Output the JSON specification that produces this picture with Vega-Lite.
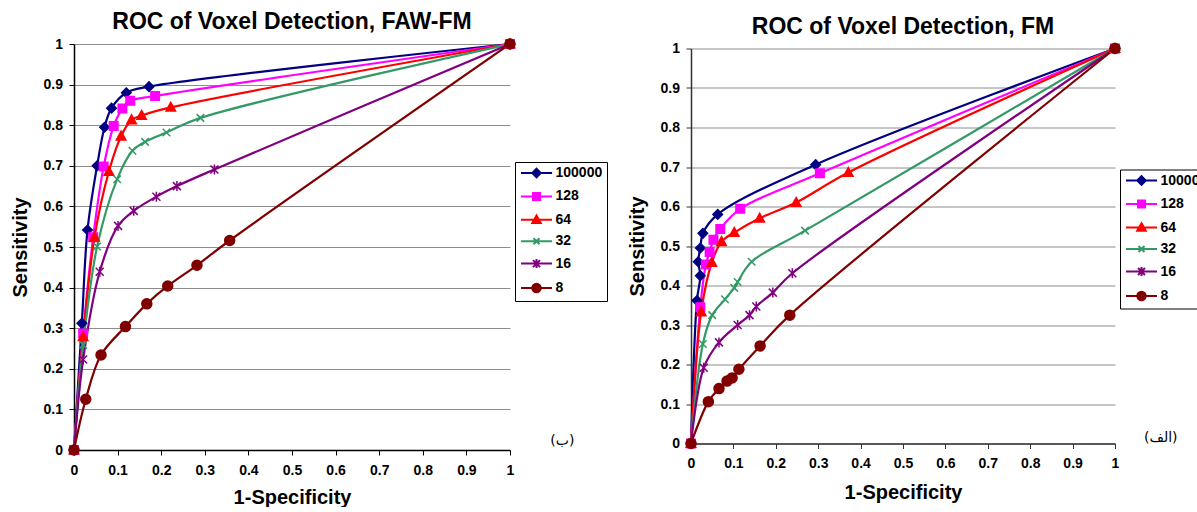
{
  "$schema": "https://vega.github.io/schema/vega-lite/v6.json",
  "padding": {"left": 10, "top": 11, "right": 0, "bottom": 0},
  "background": "white",
  "config": {"view": {"stroke": null}, "font": "Liberation Sans"},
  "datasets": {
    "faw": [
      {"s":"100000","i":0,"x":0,"y":0},{"s":"100000","i":1,"x":0.018,"y":0.312},{"s":"100000","i":2,"x":0.031,"y":0.542},{"s":"100000","i":3,"x":0.053,"y":0.700},{"s":"100000","i":4,"x":0.070,"y":0.795},{"s":"100000","i":5,"x":0.086,"y":0.842},{"s":"100000","i":6,"x":0.120,"y":0.880},{"s":"100000","i":7,"x":0.172,"y":0.895},{"s":"100000","i":8,"x":1,"y":1},
      {"s":"128","i":0,"x":0,"y":0},{"s":"128","i":1,"x":0.021,"y":0.287},{"s":"128","i":2,"x":0.044,"y":0.524},{"s":"128","i":3,"x":0.068,"y":0.698},{"s":"128","i":4,"x":0.091,"y":0.798},{"s":"128","i":5,"x":0.111,"y":0.841},{"s":"128","i":6,"x":0.129,"y":0.860},{"s":"128","i":7,"x":0.186,"y":0.872},{"s":"128","i":8,"x":1,"y":1},
      {"s":"64","i":0,"x":0,"y":0},{"s":"64","i":1,"x":0.021,"y":0.279},{"s":"64","i":2,"x":0.047,"y":0.524},{"s":"64","i":3,"x":0.080,"y":0.686},{"s":"64","i":4,"x":0.108,"y":0.773},{"s":"64","i":5,"x":0.132,"y":0.813},{"s":"64","i":6,"x":0.155,"y":0.824},{"s":"64","i":7,"x":0.222,"y":0.844},{"s":"64","i":8,"x":1,"y":1},
      {"s":"32","i":0,"x":0,"y":0},{"s":"32","i":1,"x":0.021,"y":0.259},{"s":"32","i":2,"x":0.053,"y":0.501},{"s":"32","i":3,"x":0.099,"y":0.667},{"s":"32","i":4,"x":0.134,"y":0.737},{"s":"32","i":5,"x":0.163,"y":0.759},{"s":"32","i":6,"x":0.212,"y":0.782},{"s":"32","i":7,"x":0.290,"y":0.818},{"s":"32","i":8,"x":1,"y":1},
      {"s":"16","i":0,"x":0,"y":0},{"s":"16","i":1,"x":0.021,"y":0.223},{"s":"16","i":2,"x":0.059,"y":0.439},{"s":"16","i":3,"x":0.101,"y":0.552},{"s":"16","i":4,"x":0.137,"y":0.589},{"s":"16","i":5,"x":0.189,"y":0.624},{"s":"16","i":6,"x":0.236,"y":0.650},{"s":"16","i":7,"x":0.322,"y":0.691},{"s":"16","i":8,"x":1,"y":1},
      {"s":"8","i":0,"x":0,"y":0},{"s":"8","i":1,"x":0.027,"y":0.125},{"s":"8","i":2,"x":0.062,"y":0.234},{"s":"8","i":3,"x":0.118,"y":0.304},{"s":"8","i":4,"x":0.167,"y":0.360},{"s":"8","i":5,"x":0.215,"y":0.404},{"s":"8","i":6,"x":0.282,"y":0.455},{"s":"8","i":7,"x":0.357,"y":0.516},{"s":"8","i":8,"x":1,"y":1}
    ],
    "fm": [
      {"s":"100000","i":0,"x":0,"y":0},{"s":"100000","i":1,"x":0.014,"y":0.362},{"s":"100000","i":2,"x":0.022,"y":0.425},{"s":"100000","i":3,"x":0.017,"y":0.460},{"s":"100000","i":4,"x":0.022,"y":0.495},{"s":"100000","i":5,"x":0.028,"y":0.532},{"s":"100000","i":6,"x":0.063,"y":0.580},{"s":"100000","i":7,"x":0.294,"y":0.706},{"s":"100000","i":8,"x":1,"y":1},
      {"s":"128","i":0,"x":0,"y":0},{"s":"128","i":1,"x":0.022,"y":0.345},{"s":"128","i":2,"x":0.035,"y":0.453},{"s":"128","i":3,"x":0.044,"y":0.485},{"s":"128","i":4,"x":0.053,"y":0.516},{"s":"128","i":5,"x":0.069,"y":0.543},{"s":"128","i":6,"x":0.116,"y":0.594},{"s":"128","i":7,"x":0.304,"y":0.684},{"s":"128","i":8,"x":1,"y":1},
      {"s":"64","i":0,"x":0,"y":0},{"s":"64","i":1,"x":0.024,"y":0.333},{"s":"64","i":2,"x":0.049,"y":0.458},{"s":"64","i":3,"x":0.072,"y":0.511},{"s":"64","i":4,"x":0.102,"y":0.534},{"s":"64","i":5,"x":0.162,"y":0.570},{"s":"64","i":6,"x":0.248,"y":0.610},{"s":"64","i":7,"x":0.371,"y":0.686},{"s":"64","i":8,"x":1,"y":1},
      {"s":"32","i":0,"x":0,"y":0},{"s":"32","i":1,"x":0.028,"y":0.252},{"s":"32","i":2,"x":0.050,"y":0.325},{"s":"32","i":3,"x":0.080,"y":0.365},{"s":"32","i":4,"x":0.102,"y":0.394},{"s":"32","i":5,"x":0.110,"y":0.409},{"s":"32","i":6,"x":0.143,"y":0.460},{"s":"32","i":7,"x":0.269,"y":0.539},{"s":"32","i":8,"x":1,"y":1},
      {"s":"16","i":0,"x":0,"y":0},{"s":"16","i":1,"x":0.030,"y":0.192},{"s":"16","i":2,"x":0.066,"y":0.256},{"s":"16","i":3,"x":0.110,"y":0.300},{"s":"16","i":4,"x":0.138,"y":0.325},{"s":"16","i":5,"x":0.154,"y":0.347},{"s":"16","i":6,"x":0.193,"y":0.382},{"s":"16","i":7,"x":0.239,"y":0.431},{"s":"16","i":8,"x":1,"y":1},
      {"s":"8","i":0,"x":0,"y":0},{"s":"8","i":1,"x":0.041,"y":0.106},{"s":"8","i":2,"x":0.066,"y":0.139},{"s":"8","i":3,"x":0.085,"y":0.158},{"s":"8","i":4,"x":0.097,"y":0.166},{"s":"8","i":5,"x":0.113,"y":0.188},{"s":"8","i":6,"x":0.163,"y":0.247},{"s":"8","i":7,"x":0.233,"y":0.325},{"s":"8","i":8,"x":1,"y":1}
    ]
  },
  "spacing": 19,
  "center": true,
  "resolve": {
    "scale": {"x": "independent", "y": "independent", "color": "independent", "shape": "independent", "stroke": "independent"},
    "legend": {"color": "independent", "shape": "independent", "stroke": "independent"}
  },
  "hconcat": [
    {
      "width": 436,
      "height": 406,
      "title": {"text": "ROC of Voxel Detection, FAW-FM", "font": "Liberation Sans", "fontSize": 23, "fontWeight": "bold", "color": "black", "offset": 2},
      "data": {"name": "faw"},
      "resolve": {"legend": {"color": "independent"}},
      "encoding": {
        "x": {"field": "x", "type": "quantitative", "scale": {"domain": [0, 1], "nice": false, "zero": false},
          "axis": {"title": "1-Specificity", "values": [0,0.1,0.2,0.3,0.4,0.5,0.6,0.7,0.8,0.9,1], "format": "~g", "grid": false,
            "labelFont": "Liberation Sans", "labelFontSize": 14, "labelFontWeight": "bold", "labelColor": "black", "labelPadding": 8, "labelFlush": false, "labelOverlap": false,
            "titleFont": "Liberation Sans", "titleFontSize": 20, "titleFontWeight": "bold", "titleColor": "black", "titlePadding": 10,
            "domainColor": "black", "domainWidth": 1.5, "tickColor": "black", "tickSize": 5}},
        "y": {"field": "y", "type": "quantitative", "scale": {"domain": [0, 1], "nice": false, "zero": false},
          "axis": {"title": "Sensitivity", "values": [0,0.1,0.2,0.3,0.4,0.5,0.6,0.7,0.8,0.9,1], "format": "~g", "grid": true, "gridColor": "#8c8c8c", "gridWidth": 1,
            "labelFont": "Liberation Sans", "labelFontSize": 14, "labelFontWeight": "bold", "labelColor": "black", "labelPadding": 6.5, "labelFlush": false, "labelOverlap": false,
            "titleFont": "Liberation Sans", "titleFontSize": 20, "titleFontWeight": "bold", "titleColor": "black", "titlePadding": 12.5,
            "domainColor": "black", "domainWidth": 1.5, "tickColor": "black", "tickSize": 5}}
      },
      "layer": [
        {
          "mark": {"type": "line", "strokeWidth": 2.2, "interpolate": "catmull-rom"},
          "encoding": {
            "order": {"field": "i", "type": "quantitative"},
            "color": {"field": "s", "type": "nominal",
              "scale": {"domain": ["100000","128","64","32","16","8"], "range": ["#000080","#FF00FF","#FF0000","#339966","#800080","#800000"]},
              "legend": {"title": null, "orient": "none", "legendX": 441, "legendY": 118, "direction": "vertical",
                "labelFont": "Liberation Sans", "labelFontSize": 14, "labelFontWeight": "bold", "labelColor": "black",
                "strokeColor": "black", "fillColor": "white", "padding": 4, "symbolSize": 100, "symbolStrokeWidth": 2, "labelOffset": 22.5, "rowPadding": 6.4,
                "encoding": {"symbols": {
                  "shape": {"value": {"expr": "datum.value == '100000' ? 'M-1,0L5.2,0M2.1,-0.85L2.95,0L2.1,0.85L1.25,0Z' : datum.value == '128' ? 'M-1,0L5.2,0M1.4,-0.7L2.8,-0.7L2.8,0.7L1.4,0.7Z' : datum.value == '64' ? 'M-1,0L5.2,0M2.1,-0.85L2.95,0.65L1.25,0.65Z' : datum.value == '32' ? 'M-1,0L5.2,0M1.5,-0.6L2.7,0.6M1.5,0.6L2.7,-0.6' : datum.value == '16' ? 'M-1,0L5.2,0M1.4,-0.7L2.8,0.7M1.4,0.7L2.8,-0.7M2.1,-0.9L2.1,0.9' : 'M-1,0L5.2,0M2.95,0C2.95,0.469,2.569,0.85,2.1,0.85C1.631,0.85,1.25,0.469,1.25,0C1.25,-0.469,1.631,-0.85,2.1,-0.85C2.569,-0.85,2.95,-0.469,2.95,0Z'"}},
                  "fill": {"value": {"expr": "datum.value == '100000' ? '#000080' : datum.value == '128' ? '#FF00FF' : datum.value == '64' ? '#FF0000' : datum.value == '32' ? '#339966' : datum.value == '16' ? '#800080' : '#800000'"}},
                  "stroke": {"value": {"expr": "datum.value == '100000' ? '#000080' : datum.value == '128' ? '#FF00FF' : datum.value == '64' ? '#FF0000' : datum.value == '32' ? '#339966' : datum.value == '16' ? '#800080' : '#800000'"}},
                  "strokeWidth": {"value": 2},
                  "size": {"value": 100},
                  "opacity": {"value": 1}
                }}
              }}
          }
        },
        {
          "mark": {"type": "point", "filled": true, "opacity": 1, "strokeWidth": 1.5, "size": 100},
          "encoding": {
            "color": {"field": "s", "type": "nominal", "scale": {"domain": ["100000","128","64","32","16","8"], "range": ["#000080","#FF00FF","#FF0000","#339966","#800080","#800000"]}, "legend": null},
            "stroke": {"field": "s", "type": "nominal", "scale": {"domain": ["100000","128","64","32","16","8"], "range": ["#000080","#FF00FF","#FF0000","#339966","#800080","#800000"]}, "legend": null},
            "shape": {"field": "s", "type": "nominal", "scale": {"domain": ["100000","128","64","32","16","8"], "range": ["M0,-0.95L0.95,0L0,0.95L-0.95,0Z","M-0.85,-0.85L0.85,-0.85L0.85,0.85L-0.85,0.85Z","M0,-1L0.95,0.75L-0.95,0.75Z","M-0.75,-0.75L0.75,0.75M-0.75,0.75L0.75,-0.75","M-0.8,-0.8L0.8,0.8M-0.8,0.8L0.8,-0.8M0,-1L0,1","circle"]}, "legend": null}
          }
        },
        {
          "data": {"values": [{"x": 1.12, "y": 0.022, "t": "(ب)"}]},
          "mark": {"type": "text", "font": "DejaVu Sans", "fontSize": 14, "align": "center", "baseline": "middle", "color": "black"},
          "encoding": {"text": {"field": "t", "type": "nominal"}}
        }
      ]
    },
    {
      "width": 424,
      "height": 395,
      "title": {"text": "ROC of Voxel Detection, FM", "font": "Liberation Sans", "fontSize": 23, "fontWeight": "bold", "color": "black", "offset": 2},
      "data": {"name": "fm"},
      "resolve": {"legend": {"color": "independent"}},
      "encoding": {
        "x": {"field": "x", "type": "quantitative", "scale": {"domain": [0, 1], "nice": false, "zero": false},
          "axis": {"title": "1-Specificity", "values": [0,0.1,0.2,0.3,0.4,0.5,0.6,0.7,0.8,0.9,1], "format": "~g", "grid": false,
            "labelFont": "Liberation Sans", "labelFontSize": 14, "labelFontWeight": "bold", "labelColor": "black", "labelPadding": 8, "labelFlush": false, "labelOverlap": false,
            "titleFont": "Liberation Sans", "titleFontSize": 20, "titleFontWeight": "bold", "titleColor": "black", "titlePadding": 12,
            "domainColor": "#333333", "domainWidth": 1.5, "tickColor": "#333333", "tickSize": 5}},
        "y": {"field": "y", "type": "quantitative", "scale": {"domain": [0, 1], "nice": false, "zero": false},
          "axis": {"title": "Sensitivity", "values": [0,0.1,0.2,0.3,0.4,0.5,0.6,0.7,0.8,0.9,1], "format": "~g", "grid": true, "gridColor": "#8c8c8c", "gridWidth": 1,
            "labelFont": "Liberation Sans", "labelFontSize": 14, "labelFontWeight": "bold", "labelColor": "black", "labelPadding": 6.5, "labelFlush": false, "labelOverlap": false,
            "titleFont": "Liberation Sans", "titleFontSize": 20, "titleFontWeight": "bold", "titleColor": "black", "titlePadding": 12.5,
            "domainColor": "#333333", "domainWidth": 1.5, "tickColor": "#333333", "tickSize": 5}}
      },
      "layer": [
        {
          "mark": {"type": "line", "strokeWidth": 2.2, "interpolate": "catmull-rom"},
          "encoding": {
            "order": {"field": "i", "type": "quantitative"},
            "color": {"field": "s", "type": "nominal",
              "scale": {"domain": ["100000","128","64","32","16","8"], "range": ["#000080","#FF00FF","#FF0000","#339966","#800080","#800000"]},
              "legend": {"title": null, "orient": "none", "legendX": 429, "legendY": 121, "direction": "vertical",
                "labelFont": "Liberation Sans", "labelFontSize": 14, "labelFontWeight": "bold", "labelColor": "black",
                "strokeColor": "black", "fillColor": "white", "padding": 4, "symbolSize": 100, "symbolStrokeWidth": 2, "labelOffset": 22.5, "rowPadding": 6.5,
                "encoding": {"symbols": {
                  "shape": {"value": {"expr": "datum.value == '100000' ? 'M-1,0L5.2,0M2.1,-0.85L2.95,0L2.1,0.85L1.25,0Z' : datum.value == '128' ? 'M-1,0L5.2,0M1.4,-0.7L2.8,-0.7L2.8,0.7L1.4,0.7Z' : datum.value == '64' ? 'M-1,0L5.2,0M2.1,-0.85L2.95,0.65L1.25,0.65Z' : datum.value == '32' ? 'M-1,0L5.2,0M1.5,-0.6L2.7,0.6M1.5,0.6L2.7,-0.6' : datum.value == '16' ? 'M-1,0L5.2,0M1.4,-0.7L2.8,0.7M1.4,0.7L2.8,-0.7M2.1,-0.9L2.1,0.9' : 'M-1,0L5.2,0M2.95,0C2.95,0.469,2.569,0.85,2.1,0.85C1.631,0.85,1.25,0.469,1.25,0C1.25,-0.469,1.631,-0.85,2.1,-0.85C2.569,-0.85,2.95,-0.469,2.95,0Z'"}},
                  "fill": {"value": {"expr": "datum.value == '100000' ? '#000080' : datum.value == '128' ? '#FF00FF' : datum.value == '64' ? '#FF0000' : datum.value == '32' ? '#339966' : datum.value == '16' ? '#800080' : '#800000'"}},
                  "stroke": {"value": {"expr": "datum.value == '100000' ? '#000080' : datum.value == '128' ? '#FF00FF' : datum.value == '64' ? '#FF0000' : datum.value == '32' ? '#339966' : datum.value == '16' ? '#800080' : '#800000'"}},
                  "strokeWidth": {"value": 2},
                  "size": {"value": 100},
                  "opacity": {"value": 1}
                }}
              }}
          }
        },
        {
          "mark": {"type": "point", "filled": true, "opacity": 1, "strokeWidth": 1.5, "size": 100},
          "encoding": {
            "color": {"field": "s", "type": "nominal", "scale": {"domain": ["100000","128","64","32","16","8"], "range": ["#000080","#FF00FF","#FF0000","#339966","#800080","#800000"]}, "legend": null},
            "stroke": {"field": "s", "type": "nominal", "scale": {"domain": ["100000","128","64","32","16","8"], "range": ["#000080","#FF00FF","#FF0000","#339966","#800080","#800000"]}, "legend": null},
            "shape": {"field": "s", "type": "nominal", "scale": {"domain": ["100000","128","64","32","16","8"], "range": ["M0,-0.95L0.95,0L0,0.95L-0.95,0Z","M-0.85,-0.85L0.85,-0.85L0.85,0.85L-0.85,0.85Z","M0,-1L0.95,0.75L-0.95,0.75Z","M-0.75,-0.75L0.75,0.75M-0.75,0.75L0.75,-0.75","M-0.8,-0.8L0.8,0.8M-0.8,0.8L0.8,-0.8M0,-1L0,1","circle"]}, "legend": null}
          }
        },
        {
          "data": {"values": [{"x": 1.108, "y": 0.015, "t": "(الف)"}]},
          "mark": {"type": "text", "font": "DejaVu Sans", "fontSize": 14, "align": "center", "baseline": "middle", "color": "black"},
          "encoding": {"text": {"field": "t", "type": "nominal"}}
        }
      ]
    }
  ]
}
